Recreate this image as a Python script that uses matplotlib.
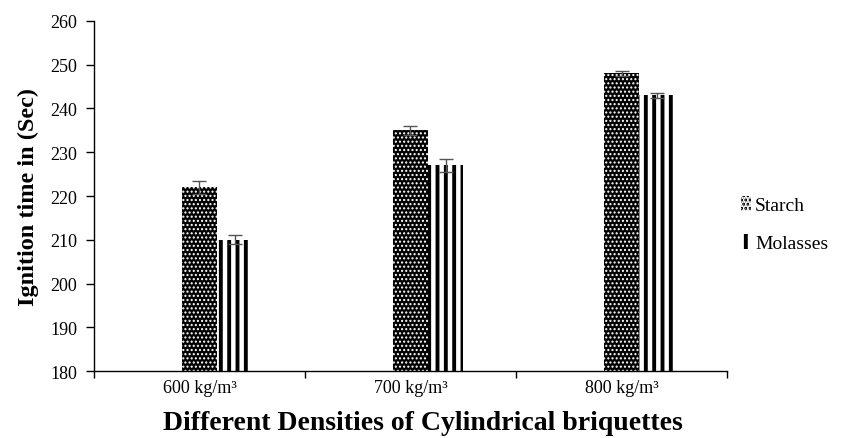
import matplotlib
matplotlib.use("Agg")
import matplotlib.pyplot as plt
import numpy as np

plt.rcParams['font.family'] = ['Liberation Serif', 'DejaVu Serif']
plt.rcParams['hatch.linewidth'] = 2.8

categories = ["600 kg/m³", "700 kg/m³", "800 kg/m³"]
starch = [222, 235, 248]
starch_err = [1.5, 1.0, 0.6]
molasses = [210, 227, 243]
molasses_err = [1.0, 1.5, 0.6]

fig = plt.figure(figsize=(8.43, 4.39), dpi=100)
ax = fig.add_axes([0.1115, 0.1526, 0.7509, 0.7973])

x = np.arange(len(categories))
w = 0.167
b1 = ax.bar(x, starch, w, facecolor='black', edgecolor='white', hatch='....',
            linewidth=0, label='Starch', zorder=2)
b2 = ax.bar(x + w, molasses, w, facecolor='white', edgecolor='black', hatch='||',
            linewidth=0, label='Molasses', zorder=2)
for p in b1:
    if hasattr(p, 'set_hatch_linewidth'):
        p.set_hatch_linewidth(1.0)
ax.errorbar(x, starch, yerr=starch_err, fmt='none', ecolor='#555555', capsize=5, elinewidth=1, zorder=3)
ax.errorbar(x + w, molasses, yerr=molasses_err, fmt='none', ecolor='#555555', capsize=5, elinewidth=1, zorder=3)

ax.set_ylim(180, 260)
ax.set_yticks(np.arange(180, 261, 10))
ax.set_xlim(-0.5, 2.5)
ax.set_xticks(x)
ax.set_xticklabels(categories, fontsize=13)
ax.set_xticks([-0.5, 0.5, 1.5, 2.5], minor=True)
ax.tick_params(axis='x', which='major', length=0, pad=6)
ax.tick_params(axis='x', which='minor', length=5, direction='out', width=1)
ax.tick_params(axis='y', length=6, direction='out', width=1, labelsize=13, pad=6)

for s in ('top', 'right'):
    ax.spines[s].set_visible(False)
for s in ('left', 'bottom'):
    ax.spines[s].set_linewidth(1.0)

ax.set_ylabel("Ignition time in (Sec)", fontsize=17.5, fontweight='bold', labelpad=8)
ax.set_xlabel("Different Densities of Cylindrical briquettes", fontsize=20,
              fontweight='bold', labelpad=4)
ax.xaxis.set_label_coords(0.52, -0.11)
ax.xaxis.label.set_va('top')

leg = ax.legend(loc='center left', bbox_to_anchor=(0.995, 0.42), frameon=False,
                fontsize=14, handlelength=0.5, handleheight=0.8, handletextpad=0.2,
                labelspacing=1.0)

fig.savefig("out.png", dpi=100)
